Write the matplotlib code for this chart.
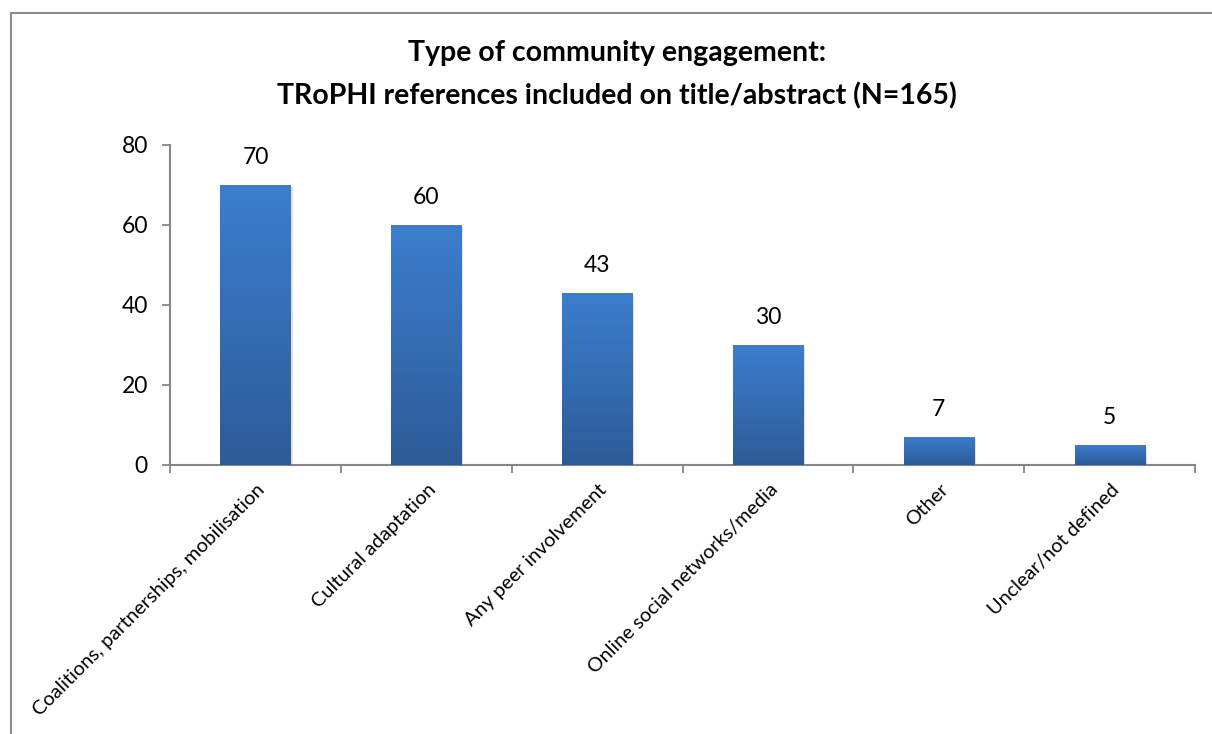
import matplotlib.pyplot as plt
import numpy as np
from matplotlib.colors import LinearSegmentedColormap
from matplotlib.patches import Rectangle

categories = ['Coalitions, partnerships, mobilisation', 'Cultural adaptation',
              'Any peer involvement', 'Online social networks/media', 'Other',
              'Unclear/not defined']
counts = [70, 60, 43, 30, 7, 5]
yticks = [0, 20, 40, 60, 80]

plt.rcParams['font.family'] = ['Lato', 'DejaVu Sans']

fig = plt.figure(figsize=(12.12, 7.34), dpi=100)
ax = fig.add_axes([0.1403, 0.3665, 0.8457, 0.436])

x = np.arange(len(categories))
bars = ax.bar(x, counts, width=0.41, color='#3570b8', zorder=2)

# vertical gradient on each bar, like the Excel fill
cmap = LinearSegmentedColormap.from_list('bluegrad', ['#2d5b97', '#3c7ece'])
grad = np.linspace(0, 1, 256).reshape(-1, 1)
for b in bars:
    x0, w, h = b.get_x(), b.get_width(), b.get_height()
    # soft shadow
    ax.add_patch(Rectangle((x0 + 0.012, -0.4), w, h, color='#000000', alpha=0.12,
                           zorder=1, linewidth=0))
    im = ax.imshow(grad, cmap=cmap, origin='lower', aspect='auto',
                   extent=(x0, x0 + w, 0, h), zorder=3)
    im.set_clip_path(b)

for xi, v in zip(x, counts):
    ax.annotate(str(v), (xi, v), xytext=(0, 12), textcoords='offset points',
                ha='center', va='bottom', fontsize=16.5, color='black')

ax.set_xlim(-0.5, len(categories) - 0.5)
ax.set_ylim(0, 80)
ax.set_yticks(yticks)
ax.tick_params(axis='y', labelsize=16.5, length=6, width=1.3, color='#868686', pad=10)

ax.set_xticks(np.arange(len(categories) + 1) - 0.5)
ax.set_xticklabels([])
ax.tick_params(axis='x', length=6, width=1.3, color='#868686')
for xi, lab in zip(x, categories):
    ax.text(xi + 0.04, -5.5, lab, rotation=45, rotation_mode='anchor',
            ha='right', va='center', fontsize=14.3)

for s in ['top', 'right']:
    ax.spines[s].set_visible(False)
for s in ['left', 'bottom']:
    ax.spines[s].set_color('#868686')
    ax.spines[s].set_linewidth(1.5)

fig.text(0.509, 0.928, 'Type of community engagement:', ha='center', va='center',
         fontsize=20.5, fontweight='bold')
fig.text(0.509, 0.870, 'TRoPHI references included on title/abstract (N=165)',
         ha='center', va='center', fontsize=20.5, fontweight='bold')

# chart area border (left and top visible, rest cropped)
fig.add_artist(plt.Line2D([11 / 1212, 11 / 1212], [0, 1 - 13 / 734], color='#8c8c8c', lw=1.5,
                          transform=fig.transFigure))
fig.add_artist(plt.Line2D([11 / 1212, 1], [1 - 13 / 734, 1 - 13 / 734], color='#8c8c8c', lw=1.5,
                          transform=fig.transFigure))

fig.savefig('out.png', dpi=100)
